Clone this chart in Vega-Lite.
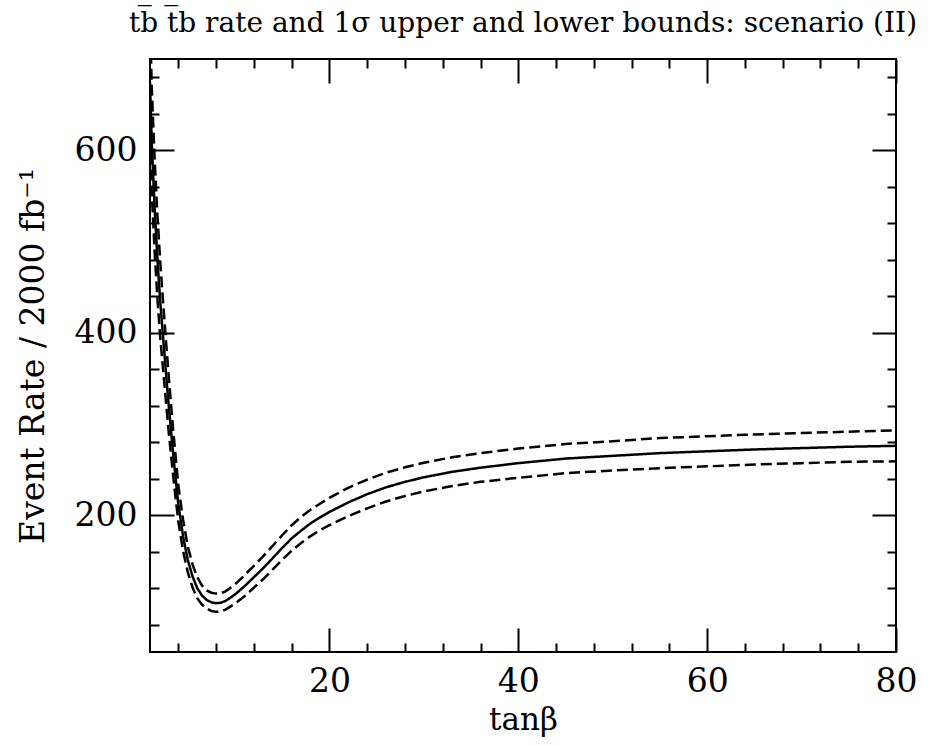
{
  "$schema": "https://vega.github.io/schema/vega-lite/v6.json",
  "width": 746,
  "height": 593,
  "autosize": {"type": "none"},
  "padding": {"left": 150, "top": 59, "right": 44, "bottom": 93},
  "background": "white",
  "config": {
    "view": {"stroke": "black", "strokeWidth": 2},
    "axis": {"domain": false, "grid": false, "tickColor": "black", "tickWidth": 2, "labelColor": "black", "titleColor": "black", "labelFont": "DejaVu Serif", "titleFont": "DejaVu Serif", "titleFontWeight": "normal", "labelOverlap": false, "labelFlush": false}
  },
  "title": {
    "text": "tb\u0305 t\u0305b rate and 1\u03c3 upper and lower bounds: scenario (II)",
    "font": "DejaVu Serif",
    "fontSize": 28,
    "fontWeight": "normal",
    "color": "black",
    "anchor": "middle",
    "baseline": "alphabetic",
    "offset": -39
  },
  "data": {
    "values": [
      {"tanb": 1, "rate": 675, "series": "central"},
      {"tanb": 1.2, "rate": 605, "series": "central"},
      {"tanb": 1.5, "rate": 535, "series": "central"},
      {"tanb": 1.8, "rate": 478, "series": "central"},
      {"tanb": 2.1, "rate": 432, "series": "central"},
      {"tanb": 2.4, "rate": 393, "series": "central"},
      {"tanb": 2.7, "rate": 355, "series": "central"},
      {"tanb": 3, "rate": 318, "series": "central"},
      {"tanb": 3.5, "rate": 262, "series": "central"},
      {"tanb": 4, "rate": 212, "series": "central"},
      {"tanb": 4.5, "rate": 177, "series": "central"},
      {"tanb": 5, "rate": 151, "series": "central"},
      {"tanb": 5.5, "rate": 133, "series": "central"},
      {"tanb": 6, "rate": 120, "series": "central"},
      {"tanb": 6.5, "rate": 112, "series": "central"},
      {"tanb": 7, "rate": 107, "series": "central"},
      {"tanb": 7.5, "rate": 104.5, "series": "central"},
      {"tanb": 8, "rate": 103.5, "series": "central"},
      {"tanb": 8.5, "rate": 104, "series": "central"},
      {"tanb": 9, "rate": 106, "series": "central"},
      {"tanb": 10, "rate": 113, "series": "central"},
      {"tanb": 11, "rate": 122, "series": "central"},
      {"tanb": 12, "rate": 132, "series": "central"},
      {"tanb": 13, "rate": 142, "series": "central"},
      {"tanb": 14, "rate": 153, "series": "central"},
      {"tanb": 15, "rate": 164, "series": "central"},
      {"tanb": 16, "rate": 174.5, "series": "central"},
      {"tanb": 17, "rate": 183, "series": "central"},
      {"tanb": 18, "rate": 191, "series": "central"},
      {"tanb": 19, "rate": 197.5, "series": "central"},
      {"tanb": 20, "rate": 203.5, "series": "central"},
      {"tanb": 22, "rate": 214, "series": "central"},
      {"tanb": 24, "rate": 223, "series": "central"},
      {"tanb": 26, "rate": 230.5, "series": "central"},
      {"tanb": 28, "rate": 236.5, "series": "central"},
      {"tanb": 30, "rate": 241.5, "series": "central"},
      {"tanb": 33, "rate": 247.5, "series": "central"},
      {"tanb": 36, "rate": 252, "series": "central"},
      {"tanb": 40, "rate": 257, "series": "central"},
      {"tanb": 45, "rate": 262, "series": "central"},
      {"tanb": 50, "rate": 265, "series": "central"},
      {"tanb": 55, "rate": 268, "series": "central"},
      {"tanb": 60, "rate": 270, "series": "central"},
      {"tanb": 65, "rate": 272, "series": "central"},
      {"tanb": 70, "rate": 273.5, "series": "central"},
      {"tanb": 75, "rate": 275, "series": "central"},
      {"tanb": 80, "rate": 276, "series": "central"},

      {"tanb": 1, "rate": 742, "series": "upper"},
      {"tanb": 1.2, "rate": 665, "series": "upper"},
      {"tanb": 1.5, "rate": 588, "series": "upper"},
      {"tanb": 1.8, "rate": 526, "series": "upper"},
      {"tanb": 2.1, "rate": 475, "series": "upper"},
      {"tanb": 2.4, "rate": 432, "series": "upper"},
      {"tanb": 2.7, "rate": 390, "series": "upper"},
      {"tanb": 3, "rate": 350, "series": "upper"},
      {"tanb": 3.5, "rate": 288, "series": "upper"},
      {"tanb": 4, "rate": 233, "series": "upper"},
      {"tanb": 4.5, "rate": 195, "series": "upper"},
      {"tanb": 5, "rate": 166, "series": "upper"},
      {"tanb": 5.5, "rate": 146, "series": "upper"},
      {"tanb": 6, "rate": 132, "series": "upper"},
      {"tanb": 6.5, "rate": 123, "series": "upper"},
      {"tanb": 7, "rate": 117.5, "series": "upper"},
      {"tanb": 7.5, "rate": 115, "series": "upper"},
      {"tanb": 8, "rate": 114, "series": "upper"},
      {"tanb": 8.5, "rate": 114.5, "series": "upper"},
      {"tanb": 9, "rate": 116.5, "series": "upper"},
      {"tanb": 10, "rate": 124, "series": "upper"},
      {"tanb": 11, "rate": 134, "series": "upper"},
      {"tanb": 12, "rate": 144.5, "series": "upper"},
      {"tanb": 13, "rate": 155, "series": "upper"},
      {"tanb": 14, "rate": 166.5, "series": "upper"},
      {"tanb": 15, "rate": 178, "series": "upper"},
      {"tanb": 16, "rate": 189, "series": "upper"},
      {"tanb": 17, "rate": 198, "series": "upper"},
      {"tanb": 18, "rate": 206, "series": "upper"},
      {"tanb": 19, "rate": 212.5, "series": "upper"},
      {"tanb": 20, "rate": 219, "series": "upper"},
      {"tanb": 22, "rate": 230, "series": "upper"},
      {"tanb": 24, "rate": 239, "series": "upper"},
      {"tanb": 26, "rate": 246.5, "series": "upper"},
      {"tanb": 28, "rate": 252.5, "series": "upper"},
      {"tanb": 30, "rate": 257.5, "series": "upper"},
      {"tanb": 33, "rate": 263.5, "series": "upper"},
      {"tanb": 36, "rate": 268, "series": "upper"},
      {"tanb": 40, "rate": 273, "series": "upper"},
      {"tanb": 45, "rate": 278, "series": "upper"},
      {"tanb": 50, "rate": 281, "series": "upper"},
      {"tanb": 55, "rate": 284.5, "series": "upper"},
      {"tanb": 60, "rate": 286.5, "series": "upper"},
      {"tanb": 65, "rate": 288.5, "series": "upper"},
      {"tanb": 70, "rate": 290, "series": "upper"},
      {"tanb": 75, "rate": 291.5, "series": "upper"},
      {"tanb": 80, "rate": 293, "series": "upper"},

      {"tanb": 1, "rate": 614, "series": "lower"},
      {"tanb": 1.2, "rate": 551, "series": "lower"},
      {"tanb": 1.5, "rate": 487, "series": "lower"},
      {"tanb": 1.8, "rate": 435, "series": "lower"},
      {"tanb": 2.1, "rate": 393, "series": "lower"},
      {"tanb": 2.4, "rate": 358, "series": "lower"},
      {"tanb": 2.7, "rate": 323, "series": "lower"},
      {"tanb": 3, "rate": 289, "series": "lower"},
      {"tanb": 3.5, "rate": 238, "series": "lower"},
      {"tanb": 4, "rate": 193, "series": "lower"},
      {"tanb": 4.5, "rate": 161, "series": "lower"},
      {"tanb": 5, "rate": 137.5, "series": "lower"},
      {"tanb": 5.5, "rate": 121, "series": "lower"},
      {"tanb": 6, "rate": 109, "series": "lower"},
      {"tanb": 6.5, "rate": 102, "series": "lower"},
      {"tanb": 7, "rate": 97.5, "series": "lower"},
      {"tanb": 7.5, "rate": 95, "series": "lower"},
      {"tanb": 8, "rate": 94, "series": "lower"},
      {"tanb": 8.5, "rate": 94.5, "series": "lower"},
      {"tanb": 9, "rate": 96.5, "series": "lower"},
      {"tanb": 10, "rate": 103, "series": "lower"},
      {"tanb": 11, "rate": 111, "series": "lower"},
      {"tanb": 12, "rate": 120.5, "series": "lower"},
      {"tanb": 13, "rate": 130, "series": "lower"},
      {"tanb": 14, "rate": 140.5, "series": "lower"},
      {"tanb": 15, "rate": 151, "series": "lower"},
      {"tanb": 16, "rate": 161, "series": "lower"},
      {"tanb": 17, "rate": 169.5, "series": "lower"},
      {"tanb": 18, "rate": 177, "series": "lower"},
      {"tanb": 19, "rate": 183.5, "series": "lower"},
      {"tanb": 20, "rate": 189, "series": "lower"},
      {"tanb": 22, "rate": 199, "series": "lower"},
      {"tanb": 24, "rate": 207.5, "series": "lower"},
      {"tanb": 26, "rate": 215, "series": "lower"},
      {"tanb": 28, "rate": 221, "series": "lower"},
      {"tanb": 30, "rate": 226, "series": "lower"},
      {"tanb": 33, "rate": 232, "series": "lower"},
      {"tanb": 36, "rate": 236.5, "series": "lower"},
      {"tanb": 40, "rate": 241, "series": "lower"},
      {"tanb": 45, "rate": 246, "series": "lower"},
      {"tanb": 50, "rate": 249, "series": "lower"},
      {"tanb": 55, "rate": 251.5, "series": "lower"},
      {"tanb": 60, "rate": 253.5, "series": "lower"},
      {"tanb": 65, "rate": 255.5, "series": "lower"},
      {"tanb": 70, "rate": 257, "series": "lower"},
      {"tanb": 75, "rate": 258.5, "series": "lower"},
      {"tanb": 80, "rate": 259, "series": "lower"}
    ]
  },
  "resolve": {"axis": {"x": "independent", "y": "independent"}},
  "layer": [
    {
      "mark": {"type": "line", "clip": true, "color": "black", "strokeWidth": 2.5},
      "encoding": {
        "x": {
          "field": "tanb", "type": "quantitative",
          "scale": {"domain": [1, 80], "nice": false, "zero": false},
          "axis": {
            "orient": "bottom",
            "values": [4, 8, 12, 16, 20, 24, 28, 32, 36, 40, 44, 48, 52, 56, 60, 64, 68, 72, 76, 80],
            "labelExpr": "datum.value % 20 === 0 ? datum.label : ''",
            "labelFontSize": 33,
            "labelPadding": 37,
            "tickSize": {"condition": {"test": "datum.value % 20 === 0", "value": -24}, "value": -9},
            "title": "tan\u03b2",
            "titleFontSize": 31,
            "titlePadding": -8
          }
        },
        "y": {
          "field": "rate", "type": "quantitative",
          "scale": {"domain": [50, 700], "nice": false, "zero": false},
          "axis": {
            "orient": "left",
            "values": [80, 120, 160, 200, 240, 280, 320, 360, 400, 440, 480, 520, 560, 600, 640, 680],
            "labelExpr": "datum.value % 200 === 0 ? datum.label : ''",
            "labelFontSize": 33,
            "labelPadding": 37,
            "tickSize": {"condition": {"test": "datum.value % 200 === 0", "value": -24}, "value": -9},
            "title": "Event Rate / 2000 fb\u207b\u00b9",
            "titleFontSize": 33,
            "titlePadding": 24
          }
        },
        "strokeDash": {
          "field": "series", "type": "nominal",
          "scale": {"domain": ["central", "upper", "lower"], "range": [[1, 0], [11, 5], [11, 5]]},
          "legend": null
        }
      }
    },
    {
      "mark": {"type": "line", "opacity": 0},
      "encoding": {
        "x": {
          "field": "tanb", "type": "quantitative",
          "axis": {
            "orient": "top",
            "values": [4, 8, 12, 16, 20, 24, 28, 32, 36, 40, 44, 48, 52, 56, 60, 64, 68, 72, 76, 80],
            "labels": false,
            "title": null,
            "tickSize": {"condition": {"test": "datum.value % 20 === 0", "value": -24}, "value": -9}
          }
        },
        "y": {
          "field": "rate", "type": "quantitative",
          "axis": {
            "orient": "right",
            "values": [80, 120, 160, 200, 240, 280, 320, 360, 400, 440, 480, 520, 560, 600, 640, 680],
            "labels": false,
            "title": null,
            "tickSize": {"condition": {"test": "datum.value % 200 === 0", "value": -24}, "value": -9}
          }
        },
        "detail": {"field": "series"}
      }
    }
  ]
}
